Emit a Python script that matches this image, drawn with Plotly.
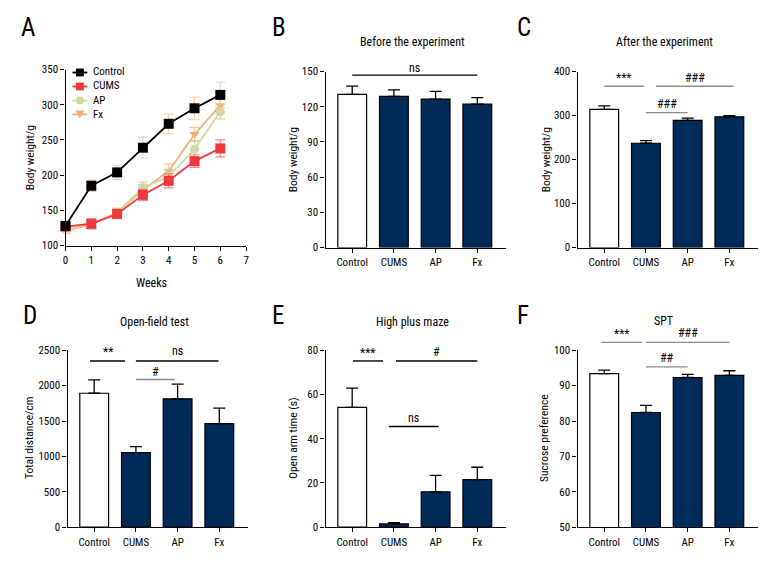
import plotly.graph_objects as go

W, H = 780, 588
FONT = "Roboto Condensed, Liberation Sans Narrow, Arial Narrow, sans-serif"

# ---------------- data ----------------
weeks = [0, 1, 2, 3, 4, 5, 6]
control_w = [128, 185, 204, 239, 273, 295, 314]
control_w_err = [4, 8, 10, 15, 14, 16, 18]
cums_w = [127, 131, 145, 172, 192, 220, 238]
cums_w_err = [4, 7, 6, 8, 10, 9, 12]
ap_w = [123, 130, 147, 182, 198, 237, 290]
ap_w_err = [4, 6, 6, 8, 10, 12, 10]
fx_w = [121, 130, 147, 179, 206, 258, 299]
fx_w_err = [4, 6, 6, 8, 10, 10, 12]

groups = ["Control", "CUMS", "AP", "Fx"]
before_vals = [130.5, 128.8, 126.5, 122.2]
before_err = [7, 5.5, 6.5, 5.5]
after_vals = [314, 237, 289, 297]
after_err = [8, 6, 5, 3]
openfield_vals = [1892, 1054, 1813, 1464]
openfield_err = [189, 83, 208, 217]
maze_vals = [54.2, 1.5, 16.0, 21.5]
maze_err = [8.7, 0.6, 7.4, 5.6]
spt_vals = [93.4, 82.4, 92.3, 92.9]
spt_err = [1.0, 2.0, 0.9, 1.3]

# ---------------- layout geometry (pixels) ----------------
def px(x):
    return x / W

def py(y):
    return 1 - y / H

panels = {
    "A": dict(x=(63, 245), y=(65, 245)),
    "B": dict(x=(325, 507), y=(67, 247)),
    "C": dict(x=(579, 761), y=(67, 247)),
    "D": dict(x=(65, 247), y=(352, 533)),
    "E": dict(x=(325, 507), y=(352, 533)),
    "F": dict(x=(579, 761), y=(352, 533)),
}
CAT_RANGE = [-0.64, 3.69]

fig = go.Figure()

NAVY = "#002a57"
series = [
    ("Control", control_w, control_w_err, "#000000", "rgba(245,190,150,0.75)", "square"),
    ("CUMS", cums_w, cums_w_err, "#ee3a3f", "rgba(238,58,63,0.6)", "square"),
    ("AP", ap_w, ap_w_err, "#d3d9a3", "rgba(200,210,150,0.8)", "circle"),
    ("Fx", fx_w, fx_w_err, "#f6ae78", "rgba(246,174,120,0.7)", "triangle-down"),
]
for name, vals, errs, col, ecol, sym in reversed(series):
    fig.add_trace(go.Scatter(
        x=weeks, y=vals, name=name, mode="lines+markers", showlegend=False,
        line=dict(color=col, width=1.8),
        marker=dict(color=col, size=10 if sym == "square" else 9, symbol=sym),
        error_y=dict(type="data", array=errs, color=ecol, thickness=1.2, width=5),
        xaxis="x", yaxis="y", cliponaxis=False,
    ))

bar_sets = [
    ("B", before_vals, before_err),
    ("C", after_vals, after_err),
    ("D", openfield_vals, openfield_err),
    ("E", maze_vals, maze_err),
    ("F", spt_vals, spt_err),
]
axis_ids = {"A": "", "B": "2", "C": "3", "D": "4", "E": "5", "F": "6"}
for key, vals, errs in bar_sets:
    n = axis_ids[key]
    fig.add_trace(go.Bar(
        x=groups, y=vals, showlegend=False,
        marker=dict(color=["#ffffff", NAVY, NAVY, NAVY], line=dict(color="#000000", width=1.2)),
        width=0.69,
        error_y=dict(type="data", array=errs, arrayminus=[0] * 4, symmetric=False,
                     color="#000000", thickness=1.3, width=6),
        xaxis="x" + n, yaxis="y" + n, cliponaxis=False,
    ))

axis_common = dict(showline=True, linecolor="#000000", linewidth=1.3, ticks="outside",
                   ticklen=4, tickwidth=1.3, tickcolor="#000000", showgrid=False,
                   zeroline=False, tickfont=dict(family=FONT, size=11, color="#000000"))

yranges = {
    "A": ([100, 350], 50), "B": ([0, 150], 30), "C": ([0, 400], 100),
    "D": ([0, 2500], 500), "E": ([0, 80], 20), "F": ([50, 100], 10),
}
layout = {}
for key, geo in panels.items():
    n = axis_ids[key]
    xa = dict(axis_common, domain=[px(geo["x"][0]), px(geo["x"][1])], anchor="y" + n)
    if key == "A":
        xa.update(range=[0, 7], dtick=1, tick0=0)
    else:
        xa.update(range=CAT_RANGE, type="category")
    rng, dt = yranges[key]
    ya = dict(axis_common, domain=[py(geo["y"][1]), py(geo["y"][0])], anchor="x" + n,
              range=rng, dtick=dt, tick0=rng[0])
    layout["xaxis" + n] = xa
    layout["yaxis" + n] = ya

annotations = []
shapes = []

def text(x, y, s, size=12, angle=0, xanchor="center", align="center"):
    annotations.append(dict(x=px(x), y=py(y), xref="paper", yref="paper", text=s,
                            showarrow=False, textangle=angle, xanchor=xanchor, yanchor="middle",
                            align=align, font=dict(family=FONT, size=size, color="#000000")))

# panel letters
for letter, (x, y) in {"A": (25, 22), "B": (278, 22), "C": (525, 22),
                       "D": (27, 317), "E": (277, 317), "F": (524, 317)}.items():
    text(x, y, letter, size=25)

# titles
text(413, 37, "Before the experiment", size=12)
text(667, 37, "After the experiment", size=12)
text(153, 323, "Open-field test", size=12)
text(413, 323, "High plus maze", size=12)
text(666, 322, "SPT", size=12)

# y titles
for x, y, s in [(27, 155, "Body weight/g"), (292, 157, "Body weight/g"), (547, 157, "Body weight/g"),
                (26, 442, "Total distance/cm"), (292, 442, "Open arm time (s)"),
                (545, 442, "Sucrose preference")]:
    text(x, y, s, size=11.5, angle=-90)
text(150, 283, "Weeks", size=12)

# manual legend for panel A (one multi-line text block, symbols drawn beside each row)
LEG_FS = 11
row_gap = LEG_FS * 1.3
row0 = 68
legend_rows = [(row0 + i * row_gap, s) for i, s in enumerate(series)]
for ypx, (name, _, _, col, _, sym) in legend_rows:
    shapes.append(dict(type="line", xref="paper", yref="paper", x0=px(70), x1=px(85),
                       y0=py(ypx), y1=py(ypx), line=dict(color=col, width=1.8)))
    if sym == "square":
        shapes.append(dict(type="rect", xref="paper", yref="paper", x0=px(73.5), x1=px(81.5),
                           y0=py(ypx - 4), y1=py(ypx + 4), fillcolor=col, line=dict(width=0)))
    elif sym == "circle":
        shapes.append(dict(type="circle", xref="paper", yref="paper", x0=px(73.5), x1=px(81.5),
                           y0=py(ypx - 4), y1=py(ypx + 4), fillcolor=col, line=dict(width=0)))
    else:
        path = "M {} {} L {} {} L {} {} Z".format(px(73), py(ypx - 4), px(82), py(ypx - 4),
                                                  px(77.5), py(ypx + 4))
        shapes.append(dict(type="path", xref="paper", yref="paper", path=path,
                           fillcolor=col, line=dict(width=0)))
text(89, row0 + 1.5 * row_gap, "<br>".join(s[0] for s in series), size=LEG_FS,
     xanchor="left", align="left")

# significance brackets
def cat_px(key, i):
    x0, x1 = panels[key]["x"]
    return x0 + (i - CAT_RANGE[0]) / (CAT_RANGE[1] - CAT_RANGE[0]) * (x1 - x0)

def bracket(key, i0, i1, ypx, label, color, ty):
    xa, xb = cat_px(key, i0), cat_px(key, i1)
    shapes.append(dict(type="line", xref="paper", yref="paper", x0=px(xa), x1=px(xb),
                       y0=py(ypx), y1=py(ypx), line=dict(color=color, width=1.4)))
    text((xa + xb) / 2, ty, label, size=12)

GRAY = "#8c8c8c"
bracket("B", 0, 3, 70.7, "ns", "#000000", 63)
bracket("C", 0, 0.95, 82, "***", GRAY, 74)
bracket("C", 1.24, 3.1, 82, "###", GRAY, 74)
bracket("C", 1.0, 2.0, 109, "###", GRAY, 100)
bracket("D", -0.1, 0.74, 363, "**", "#000000", 354)
bracket("D", 1.0, 2.98, 363, "ns", "#000000", 353)
bracket("D", 1.0, 1.93, 382, "#", GRAY, 374)
bracket("E", 0.02, 0.74, 363, "***", "#000000", 355)
bracket("E", 1.05, 3.0, 363, "#", "#000000", 354)
bracket("E", 0.88, 2.07, 430, "ns", "#000000", 421)
bracket("F", -0.07, 0.9, 344, "***", GRAY, 335)
bracket("F", 1.0, 3.0, 344, "###", GRAY, 334)
bracket("F", 1.0, 2.0, 369, "##", GRAY, 360)

fig.update_layout(
    width=W, height=H, margin=dict(l=0, r=0, t=0, b=0),
    paper_bgcolor="#ffffff", plot_bgcolor="#ffffff",
    font=dict(family=FONT, size=12, color="#000000"),
    showlegend=False,
    annotations=annotations, shapes=shapes, bargap=0.3,
    **layout,
)

fig.write_html("out.html", config={"displayModeBar": False},
               post_script="document.body.style.margin='0';")
